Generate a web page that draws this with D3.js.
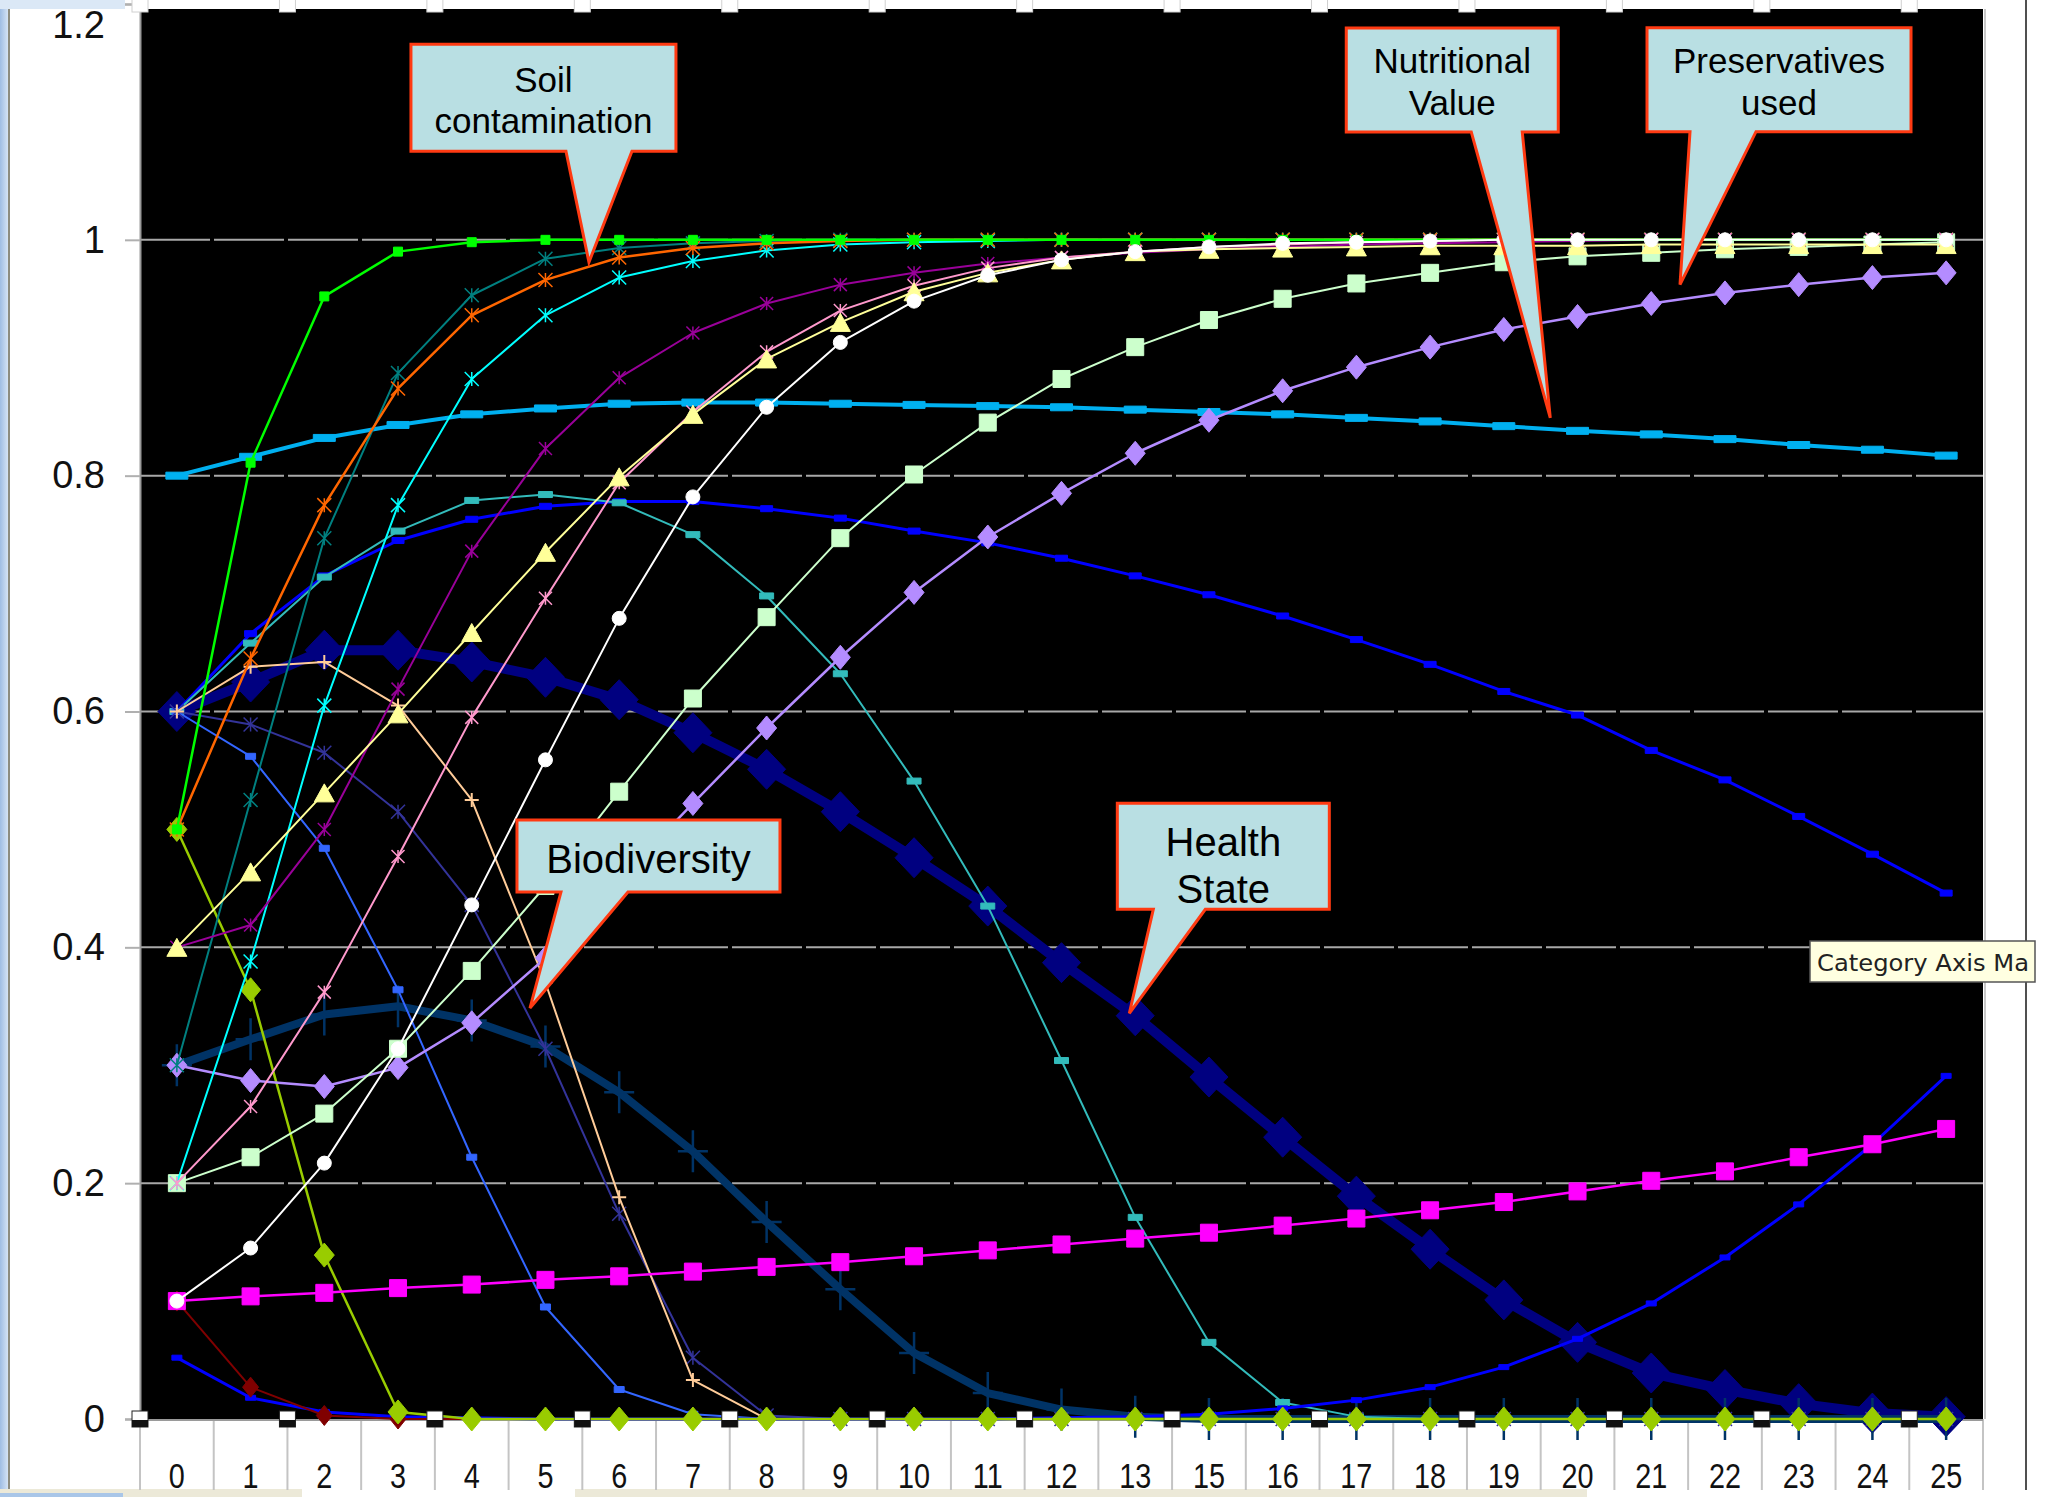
<!DOCTYPE html>
<html><head><meta charset="utf-8">
<script src="https://cdn.jsdelivr.net/npm/d3@7"></script>
<style>
html,body{margin:0;padding:0;background:#fff;overflow:hidden}
svg{display:block}
</style>
</head><body>
<svg id="chart" width="2045" height="1497" font-family="Liberation Sans, Arial, sans-serif"></svg>
<script>
// ---------------- DATA ----------------
const categories = ["0","1","2","3","4","5","6","7","8","9","10","11","12","13","15","16","17","18","19","20","21","22","23","24","25"];
const yTicks = [0, 0.2, 0.4, 0.6, 0.8, 1, 1.2];
const gridTicks = [0.2, 0.4, 0.6, 0.8, 1];

const healthState   = [0.6,0.625,0.652,0.652,0.642,0.629,0.61,0.582,0.551,0.515,0.476,0.435,0.387,0.342,0.29,0.239,0.189,0.144,0.101,0.065,0.039,0.025,0.013,0.005,0.002];
const biodiversity  = [0.3,0.322,0.343,0.35,0.338,0.316,0.277,0.227,0.167,0.11,0.056,0.022,0.008,0.002,0,0,0,0,0,0,0,0,0,0,0];
const blueHump      = [0.6,0.666,0.715,0.745,0.763,0.774,0.778,0.778,0.772,0.764,0.753,0.743,0.73,0.715,0.699,0.681,0.661,0.64,0.617,0.597,0.567,0.542,0.511,0.479,0.446];
const nutritional   = [0.8,0.816,0.832,0.843,0.852,0.857,0.861,0.862,0.862,0.861,0.86,0.859,0.858,0.856,0.854,0.852,0.849,0.846,0.842,0.838,0.835,0.831,0.826,0.822,0.817];
const lightGreen    = [0.2,0.222,0.259,0.314,0.38,0.452,0.532,0.611,0.68,0.747,0.801,0.845,0.882,0.909,0.932,0.95,0.963,0.972,0.981,0.986,0.989,0.992,0.994,0.996,0.998];
const lavender      = [0.3,0.287,0.282,0.298,0.336,0.391,0.457,0.522,0.586,0.646,0.701,0.748,0.785,0.819,0.847,0.872,0.892,0.909,0.924,0.935,0.946,0.955,0.962,0.968,0.972];
const whiteSeries   = [0.1,0.145,0.217,0.314,0.436,0.559,0.679,0.782,0.858,0.913,0.948,0.97,0.983,0.99,0.994,0.997,0.998,0.999,1,1,1,1,1,1,1];
const yellowSeries  = [0.4,0.464,0.531,0.598,0.667,0.735,0.799,0.852,0.899,0.93,0.956,0.972,0.983,0.99,0.992,0.993,0.994,0.995,0.995,0.995,0.996,0.996,0.996,0.996,0.996];
const pinkSeries    = [0.2,0.265,0.362,0.477,0.595,0.696,0.794,0.854,0.905,0.94,0.961,0.976,0.985,0.99,0.994,0.996,0.998,0.999,1,1,1,1,1,1,1];
const purpleSeries  = [0.4,0.419,0.5,0.619,0.736,0.823,0.883,0.921,0.946,0.962,0.972,0.98,0.985,0.989,0.992,0.994,0.996,0.997,0.998,0.999,1,1,1,1,1];
const cyanSeries    = [0.2,0.388,0.605,0.775,0.882,0.936,0.968,0.982,0.991,0.996,0.998,0.999,1,1,1,1,1,1,1,1,1,1,1,1,1];
const tealHump      = [0.6,0.658,0.714,0.753,0.779,0.784,0.777,0.75,0.698,0.632,0.541,0.435,0.304,0.171,0.065,0.014,0.002,0,0,0,0,0,0,0,0];
const peachSeries   = [0.6,0.638,0.642,0.605,0.525,0.37,0.188,0.033,0,0,0,0,0,0,0,0,0,0,0,0,0,0,0,0,0];
const slateSeries   = [0.6,0.589,0.565,0.515,0.436,0.314,0.174,0.052,0.003,0,0,0,0,0,0,0,0,0,0,0,0,0,0,0,0];
const royalSeries   = [0.6,0.562,0.484,0.364,0.222,0.095,0.025,0.004,0,0,0,0,0,0,0,0,0,0,0,0,0,0,0,0,0];
const magentaSeries = [0.1,0.104,0.107,0.111,0.114,0.118,0.121,0.125,0.129,0.133,0.138,0.143,0.148,0.153,0.158,0.164,0.17,0.177,0.184,0.193,0.202,0.21,0.222,0.233,0.246];
const blueValley    = [0.052,0.018,0.006,0.002,0.001,0,0,0,0,0,0,0,0.001,0.002,0.004,0.009,0.016,0.027,0.044,0.068,0.098,0.137,0.182,0.233,0.291];
const darkRedSeries = [0.1,0.027,0.003,0,0,0,0,0,0,0,0,0,0,0,0,0,0,0,0,0,0,0,0,0,0];
const oliveSeries   = [0.5,0.364,0.139,0.006,0,0,0,0,0,0,0,0,0,0,0,0,0,0,0,0,0,0,0,0,0];
const darkTeal      = [0.3,0.525,0.747,0.887,0.953,0.984,0.993,0.997,0.999,1,1,1,1,1,1,1,1,1,1,1,1,1,1,1,1];
const orangeSeries  = [0.5,0.645,0.775,0.874,0.936,0.966,0.985,0.993,0.997,0.999,1,1,1,1,1,1,1,1,1,1,1,1,1,1,1];
const greenSeries   = [0.5,0.811,0.952,0.99,0.998,1,1,1,1,1,1,1,1,1,1,1,1,1,1,1,1,1,1,1,1];

// extra square marks sitting on category boundaries (every other boundary)
const boundaryMarks = [0,2,4,6,8,10,12,14,16,18,20,22,24];

// annotation texts
const calloutTexts = [["Soil","contamination"],["Nutritional","Value"],["Preservatives","used"],["Biodiversity"],["Health","State"]];
const tooltipText = "Category Axis Ma";

// ---------------- STYLE / SERIES TABLE ----------------
const series = [
  {v: healthState,   c:"#000080", w:10,  m:"diamond", mw:38, mh:40},
  {v: biodiversity,  c:"#003366", w:8,   m:"plus",    mw:30, mh:42, sw:2.5},
  {v: nutritional,   c:"#00b0f0", w:4,   m:"dash",    mw:22, mh:7},
  {v: blueHump,      c:"#0000ff", w:3,   m:"dash",    mw:12, mh:6},
  {v: tealHump,      c:"#33bbbb", w:2,   m:"dash",    mw:14, mh:6},
  {v: royalSeries,   c:"#3366ff", w:2,   m:"dash",    mw:10, mh:6},
  {v: slateSeries,   c:"#333399", w:2,   m:"star",    mw:14, mh:14, sw:1.5},
  {v: peachSeries,   c:"#ffcc99", w:2,   m:"plus",    mw:14, mh:14, sw:2},
  {v: blueValley,    c:"#0000ff", w:3,   m:"dash",    mw:10, mh:5},
  {v: darkRedSeries, c:"#800000", w:2,   m:"diamond", mw:16, mh:20},
  {v: oliveSeries,   c:"#99cc00", w:2.5, m:"diamond", mw:20, mh:24},
  {v: magentaSeries, c:"#ff00ff", w:2.5, m:"square",  mw:17, mh:17},
  {v: lavender,      c:"#b48cff", w:2.5, m:"diamond", mw:20, mh:24},
  {v: lightGreen,    c:"#ccffcc", w:2,   m:"square",  mw:17, mh:17},
  {v: cyanSeries,    c:"#00ffff", w:2,   m:"star",    mw:14, mh:14, sw:1.5},
  {v: darkTeal,      c:"#008080", w:2,   m:"star",    mw:14, mh:14, sw:1.5},
  {v: orangeSeries,  c:"#ff6600", w:2.5, m:"star",    mw:14, mh:14, sw:1.5},
  {v: purpleSeries,  c:"#990099", w:2,   m:"star",    mw:13, mh:13, sw:1.5},
  {v: pinkSeries,    c:"#ff99cc", w:2,   m:"star",    mw:13, mh:13, sw:1.5},
  {v: yellowSeries,  c:"#ffff99", w:2,   m:"triangle",mw:20, mh:18},
  {v: greenSeries,   c:"#00ff00", w:2.5, m:"square",  mw:9,  mh:9},
  {v: whiteSeries,   c:"#ffffff", w:2,   m:"circle",  mw:14, mh:14}
];

// ---------------- LAYOUT ----------------
const W = 2045, H = 1497;
const plotL = 140, plotR = 1983, plotB = 1419, plotTopPix = 9;
const svg = d3.select("#chart");

const x = d3.scaleBand().domain(categories).range([plotL, plotR]).paddingInner(0).paddingOuter(0);
const bw = x.bandwidth();
const xc = c => x(c) + bw / 2;
const xi = d3.scaleLinear().domain([-0.5, categories.length - 0.5]).range([plotL, plotR]);
const y = d3.scaleLinear().domain([0, 1.2]).range([plotB, 4]);

// window chrome remnants
const lg = svg.append("defs").append("linearGradient").attr("id","edge").attr("x1",0).attr("x2",1);
lg.append("stop").attr("offset",0).attr("stop-color","#9fbde3");
lg.append("stop").attr("offset",1).attr("stop-color","#d4e3f5");
svg.append("rect").attr("x",0).attr("y",0).attr("width",8).attr("height",H).attr("fill","url(#edge)");
svg.append("rect").attr("x",8).attr("y",0).attr("width",2).attr("height",H).attr("fill","#8c8c80");
svg.append("rect").attr("x",0).attr("y",0).attr("width",125).attr("height",9).attr("fill","#dbe8f6");

// plot background
svg.append("rect").attr("x",plotL).attr("y",plotTopPix).attr("width",plotR-plotL).attr("height",plotB-plotTopPix).attr("fill","#000");
svg.append("line").attr("x1",plotR+2).attr("x2",plotR+2).attr("y1",plotTopPix).attr("y2",plotB).attr("stroke","#c8c8c8").attr("stroke-width",2);

// gridlines
svg.append("g").selectAll("line").data(gridTicks).join("line")
  .attr("x1", plotL).attr("x2", plotR)
  .attr("y1", d => y(d)).attr("y2", d => y(d))
  .attr("stroke", "#a8a8a8").attr("stroke-width", 2).attr("stroke-dasharray","70 4");

// y axis
const yAxis = svg.append("g").attr("transform",`translate(${plotL},0)`)
  .call(d3.axisLeft(y).tickValues(yTicks).tickSize(15).tickPadding(20).tickFormat(d3.format("~g")));
yAxis.select(".domain").attr("stroke","#9a9a9a").attr("stroke-width",2);
yAxis.selectAll(".tick line").attr("stroke","#b0b0b0").attr("stroke-width",2);
yAxis.selectAll(".tick text").attr("font-size",38).attr("fill","#111")
  .attr("font-family","Liberation Sans, Arial, sans-serif")
  .attr("dy", d => d === 1.2 ? "0.88em" : "0.32em");

// x axis area: separators + labels
svg.append("rect").attr("x",0).attr("y",1489).attr("width",302).attr("height",8).attr("fill","#ece9d8");
svg.append("rect").attr("x",575).attr("y",1489).attr("width",1012).attr("height",8).attr("fill","#ece9d8");
svg.append("rect").attr("x",0).attr("y",1493).attr("width",123).attr("height",4).attr("fill","#a9c6e8");
svg.append("g").selectAll("line").data(d3.range(categories.length + 1)).join("line")
  .attr("x1", k => xi(k - 0.5)).attr("x2", k => xi(k - 0.5))
  .attr("y1", plotB).attr("y2", 1490)
  .attr("stroke", "#c4c4c4").attr("stroke-width", 2);
svg.append("line").attr("x1",plotL).attr("x2",plotR).attr("y1",plotB+1).attr("y2",plotB+1).attr("stroke","#9a9a9a").attr("stroke-width",2);
const xAxis = svg.append("g").attr("transform",`translate(0,${plotB})`)
  .call(d3.axisBottom(x).tickSize(0).tickPadding(0));
xAxis.select(".domain").remove();
xAxis.selectAll(".tick text").attr("dy", null).attr("y", 69)
  .attr("font-size", 36).attr("fill","#111")
  .attr("font-family","Liberation Sans, Arial, sans-serif")
  .attr("transform","scale(0.8,1)");

// right chrome line
svg.append("rect").attr("x",2025).attr("y",0).attr("width",2).attr("height",1490).attr("fill","#505050");

// ---------------- SERIES ----------------
function markerPath(m, w, h) {
  const a = w/2, b = h/2;
  switch (m) {
    case "diamond":  return `M0,${-b}L${a},0L0,${b}L${-a},0Z`;
    case "square":
    case "dash":     return `M${-a},${-b}H${a}V${b}H${-a}Z`;
    case "triangle": return `M0,${-b}L${a},${b}L${-a},${b}Z`;
    case "circle":   return d3.arc()({innerRadius:0, outerRadius:a, startAngle:0, endAngle:2*Math.PI});
    case "plus":     return `M${-a},0H${a}M0,${-b}V${b}`;
    case "star":     return `M${-a},${-b}L${a},${b}M${-a},${b}L${a},${-b}M0,${-b}V${b}`;
  }
}
const line = d3.line().x((d,i) => xc(categories[i])).y(d => y(d));
const sg = svg.append("g");
series.forEach(s => {
  const g = sg.append("g");
  g.append("path").attr("d", line(s.v)).attr("fill","none").attr("stroke", s.c)
    .attr("stroke-width", s.w).attr("stroke-linejoin","round");
  const stroked = (s.m === "plus" || s.m === "star");
  g.selectAll("path.mk").data(s.v).join("path").attr("class","mk")
    .attr("transform", (d,i) => `translate(${xc(categories[i])},${y(d)})`)
    .attr("d", markerPath(s.m, s.mw, s.mh))
    .attr("fill", stroked ? "none" : s.c)
    .attr("stroke", s.c).attr("stroke-width", stroked ? s.sw : 1);
});

// boundary squares (bottom, on zero) and top row (at 1.2)
const bm = svg.append("g");
boundaryMarks.forEach(k => {
  const bx = xi(k - 0.5);
  bm.append("rect").attr("x", bx-8).attr("y", y(0)-8).attr("width",16).attr("height",16).attr("fill","#fff").attr("stroke","#222").attr("stroke-width",1);
  bm.append("rect").attr("x", bx-8).attr("y", y(0)+1).attr("width",16).attr("height",7).attr("fill","#111");
  bm.append("rect").attr("x", bx-8).attr("y", y(1.2)-8).attr("width",16).attr("height",16).attr("fill","#fff").attr("stroke","#d0d0d0").attr("stroke-width",1);
});

// ---------------- CALLOUTS ----------------
const callouts = [
  {t: calloutTexts[0], idx: 5.59,  val: 0.981, bx:[-178, 87], by:[-218,-111], base:[-23, 43], fs:35, bl:[48, 89]},
  {t: calloutTexts[1], idx: 18.63, val: 0.849, bx:[-204, 8],  by:[-390,-286], base:[-79,-28], fs:35, bl:[45, 87]},
  {t: calloutTexts[2], idx: 20.39, val: 0.962, bx:[-33, 231], by:[-257,-153], base:[10, 76],  fs:35, bl:[45, 87]},
  {t: calloutTexts[3], idx: 4.79,  val: 0.3485,bx:[-13, 250], by:[-188,-116], base:[31, 98],  fs:40, bl:[53]},
  {t: calloutTexts[4], idx: 12.92, val: 0.344, bx:[-12, 200], by:[-210,-104], base:[24, 76],  fs:40, bl:[53, 100]}
];
const cg = svg.append("g");
callouts.forEach(c => {
  const tx = xi(c.idx), ty = y(c.val);
  const L = tx + c.bx[0], R = tx + c.bx[1], T = ty + c.by[0], B = ty + c.by[1];
  const p = `M${L},${T}H${R}V${B}H${tx + c.base[1]}L${tx},${ty}L${tx + c.base[0]},${B}H${L}Z`;
  cg.append("path").attr("d", p).attr("fill","#b9dfe3").attr("stroke","#ff3a12").attr("stroke-width",3).attr("stroke-linejoin","miter");
  c.t.forEach((s, i) => {
    cg.append("text").attr("x", (L + R) / 2).attr("y", T + c.bl[i])
      .attr("text-anchor","middle").attr("font-size", c.fs).attr("fill","#000").text(s);
  });
});

// tooltip
const tip = svg.append("g");
tip.append("rect").attr("x",1810).attr("y",941).attr("width",225).attr("height",41).attr("fill","#ffffe1").attr("stroke","#555").attr("stroke-width",1.5);
tip.append("text").attr("x",1817).attr("y",971)
  .attr("font-family","DejaVu Sans, Verdana, sans-serif").attr("font-size",23)
  .attr("textLength",212).attr("lengthAdjust","spacingAndGlyphs")
  .attr("fill","#222").text(tooltipText);
</script>
</body></html>
